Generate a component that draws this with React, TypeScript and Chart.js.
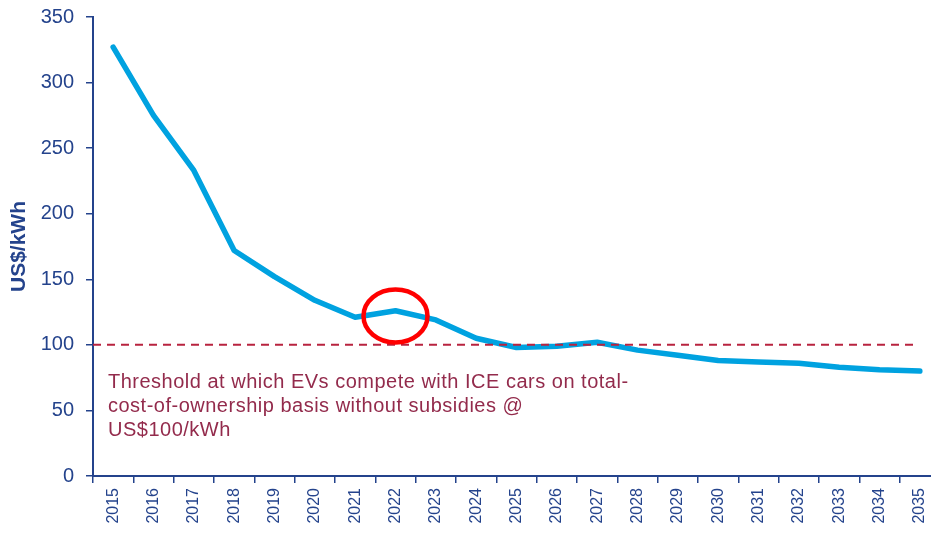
import React, { useEffect, useRef } from "react";
import { Chart, registerables } from "chart.js";

Chart.register(...registerables);

const years = [
  "2015", "2016", "2017", "2018", "2019", "2020", "2021", "2022", "2023", "2024", "2025",
  "2026", "2027", "2028", "2029", "2030", "2031", "2032", "2033", "2034", "2035",
];
const packCost = [327, 275, 233, 172, 152, 134, 121, 126, 119, 105, 98, 99, 102, 96, 92, 88, 87, 86, 83, 81, 80];
const yTicks = [0, 50, 100, 150, 200, 250, 300, 350];
const threshold = 100;
const highlightYear = "2022";
const highlightCentre = 122;
const noteLines = [
  "Threshold at which EVs compete with ICE cars on total-",
  "cost-of-ownership basis without subsidies @",
  "US$100/kWh",
];

const NAVY = "#24438c";
const LINE_BLUE = "#00a2e0";
const DASH_RED = "#b8233f";
const NOTE_RED = "#932b4c";
const FONT = "'Liberation Sans', Arial, sans-serif";

const overlayPlugin = {
  id: "thresholdOverlay",
  afterDatasetsDraw(chart: any) {
    const { ctx, chartArea, scales } = chart;
    const x = scales.x;
    const y = scales.y;
    const yThr = y.getPixelForValue(threshold);

    ctx.save();
    // dashed threshold line
    ctx.strokeStyle = DASH_RED;
    ctx.lineWidth = 2;
    ctx.setLineDash([8, 6]);
    ctx.beginPath();
    ctx.moveTo(chartArea.left, yThr);
    ctx.lineTo(x.getPixelForValue(years.length - 1) - 6, yThr);
    ctx.stroke();
    ctx.setLineDash([]);

    // red ring around the highlighted year
    const cx = x.getPixelForValue(years.indexOf(highlightYear));
    const cy = y.getPixelForValue(highlightCentre);
    ctx.strokeStyle = "#ff0000";
    ctx.lineWidth = 4.5;
    ctx.beginPath();
    ctx.ellipse(cx, cy, 32, 26.5, 0, 0, Math.PI * 2);
    ctx.stroke();

    // note text under the threshold
    ctx.fillStyle = NOTE_RED;
    ctx.font = `20px ${FONT}`;
    (ctx as any).letterSpacing = "0.5px";
    ctx.textBaseline = "alphabetic";
    ctx.textAlign = "left";
    noteLines.forEach((line, i) => {
      ctx.fillText(line, chartArea.left + 15, yThr + 43 + i * 24);
    });
    ctx.restore();
  },
};

export default function App() {
  const canvasRef = useRef<HTMLCanvasElement | null>(null);

  useEffect(() => {
    if (!canvasRef.current) return;
    const chart = new Chart(canvasRef.current, {
      type: "line",
      data: {
        labels: years,
        datasets: [
          {
            data: packCost,
            borderColor: LINE_BLUE,
            borderWidth: 5.5,
            pointRadius: 0,
            tension: 0,
            borderJoinStyle: "round",
            borderCapStyle: "round",
            fill: false,
          },
        ],
      },
      options: {
        animation: false,
        responsive: false,
        maintainAspectRatio: false,
        layout: { padding: { top: 17, right: 0, bottom: 0, left: 0 } },
        plugins: {
          legend: { display: false },
          tooltip: { enabled: false },
        },
        scales: {
          x: {
            type: "category",
            offset: true,
            grid: {
              display: true,
              offset: true,
              drawOnChartArea: false,
              drawTicks: true,
              tickLength: 7,
              color: NAVY,
              lineWidth: 1.5,
            },
            border: { display: true, color: NAVY, width: 2 },
            ticks: {
              color: NAVY,
              font: { family: FONT, size: 16 },
              minRotation: 90,
              maxRotation: 90,
              autoSkip: false,
              padding: 5,
            },
            afterFit(scale: any) {
              scale.height = 59;
              scale.paddingLeft = 0;
              scale.paddingRight = 0;
            },
          },
          y: {
            min: 0,
            max: 350,
            afterBuildTicks(scale: any) {
              scale.ticks = yTicks.map((v) => ({ value: v }));
            },
            grid: {
              display: true,
              drawOnChartArea: false,
              drawTicks: true,
              tickLength: 7,
              color: NAVY,
              lineWidth: 1.5,
            },
            border: { display: true, color: NAVY, width: 2 },
            ticks: {
              color: NAVY,
              font: { family: FONT, size: 20 },
              padding: 12,
            },
            title: {
              display: true,
              text: "US$/kWh",
              color: NAVY,
              font: { family: FONT, size: 21, weight: "bold" },
              padding: { top: 7, bottom: 0 },
            },
            afterFit(scale: any) {
              scale.width = 93;
              scale.paddingTop = 0;
              scale.paddingBottom = 0;
            },
          },
        },
      },
      plugins: [overlayPlugin],
    });
    return () => chart.destroy();
  }, []);

  return (
    <div
      style={{
        position: "fixed",
        left: 0,
        top: 0,
        width: 931,
        height: 535,
        overflow: "hidden",
        background: "#ffffff",
      }}
    >
      <canvas ref={canvasRef} width={940} height={535} style={{ display: "block" }} />
    </div>
  );
}
